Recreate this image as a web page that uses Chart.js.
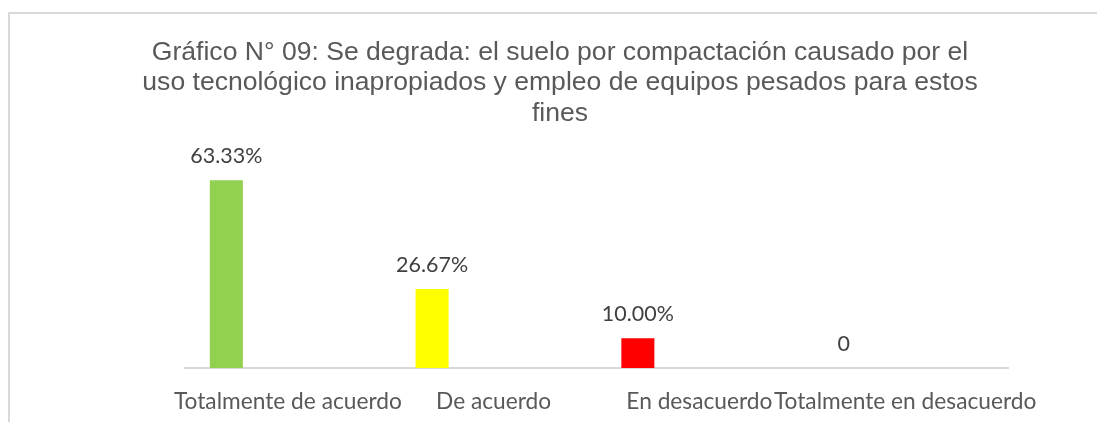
<!DOCTYPE html>
<html>
<head>
<meta charset="utf-8">
<script src="https://cdn.jsdelivr.net/npm/chart.js@4/dist/chart.umd.min.js"></script>
<style>
  html, body { margin: 0; padding: 0; background: #ffffff; overflow: hidden; }
  #frame { position: absolute; left: 8px; top: 12px; width: 1200px; height: 500px; border: 2px solid #d9d9d9; box-sizing: border-box; }
  #wrap { position: absolute; left: 0; top: 0; width: 1097px; height: 422px; }
</style>
</head>
<body>
<div id="frame"></div>
<div id="wrap"><canvas id="c"></canvas></div>
<script>
// ---- data ----
const titleLines = [
  'Gráfico N° 09: Se degrada: el suelo por compactación causado por el',
  'uso tecnológico inapropiados y empleo de equipos pesados para estos',
  'fines'
];
const categories = ['Totalmente de acuerdo', 'De acuerdo', 'En desacuerdo', 'Totalmente en desacuerdo'];
const percentages = [63.33, 26.67, 10.00, 0];
const valueLabels = ['63.33%', '26.67%', '10.00%', '0'];
const barColors = ['#92D050', '#FFFF00', '#FF0000', '#4472C4'];
// the original chart had two further (empty) series next to the visible one
const emptySeriesB = [null, null, null, null];
const emptySeriesC = [null, null, null, null];

// ---- font fitting helpers ----
const mctx = document.createElement('canvas').getContext('2d');
function fitSize(text, family, target) {
  mctx.font = '100px ' + family;
  return 100 * target / mctx.measureText(text).width;
}
const titleFamily = '"Liberation Sans", Arial, sans-serif';
const bodyFamily = 'Lato, "Open Sans", sans-serif';
const titleSize = fitSize(titleLines[1], titleFamily, 836);
const tickSize = fitSize(categories[0], bodyFamily, 228);
const labelSize = fitSize(valueLabels[0], bodyFamily, 72);

const valueLabelPlugin = {
  id: 'valueLabels',
  afterDatasetsDraw(chart) {
    const meta = chart.getDatasetMeta(0);
    const ctx = chart.ctx;
    ctx.save();
    ctx.font = labelSize + 'px ' + bodyFamily;
    ctx.fillStyle = '#404040';
    ctx.textAlign = 'center';
    ctx.textBaseline = 'alphabetic';
    meta.data.forEach((el, i) => {
      ctx.fillText(valueLabels[i], el.x, el.y - 17);
    });
    ctx.restore();
  }
};

new Chart(document.getElementById('c'), {
  type: 'bar',
  data: {
    labels: categories,
    datasets: [
      { label: 'Porcentaje', data: percentages, backgroundColor: barColors, borderWidth: 0 },
      { label: 'B', data: emptySeriesB, backgroundColor: '#ffffff' },
      { label: 'C', data: emptySeriesC, backgroundColor: '#ffffff' }
    ]
  },
  options: {
    responsive: true,
    maintainAspectRatio: false,
    animation: false,
    categoryPercentage: 0.897,
    barPercentage: 0.537,
    layout: { padding: { left: 112, right: 89, top: 0, bottom: 0 } },
    plugins: {
      legend: { display: false },
      tooltip: { enabled: false },
      title: {
        display: true,
        text: titleLines,
        color: '#595959',
        font: { family: titleFamily, size: titleSize, weight: 'normal', lineHeight: 30.5 / titleSize },
        padding: { top: 37, bottom: 32 }
      }
    },
    scales: {
      x: {
        grid: { display: false, drawTicks: false },
        border: { display: true, color: '#d9d9d9', width: 2 },
        ticks: {
          color: '#595959',
          font: { family: bodyFamily, size: tickSize },
          padding: 20,
          maxRotation: 0,
          autoSkip: false
        },
        afterFit(scale) { scale.paddingLeft = 0; scale.paddingRight = 0; scale.height = 54; }
      },
      y: {
        min: 0,
        max: 70,
        grid: { display: false, drawTicks: false },
        border: { display: false },
        ticks: { display: false },
        afterFit(scale) { scale.width = 73; }
      }
    }
  },
  plugins: [valueLabelPlugin]
});
</script>
</body>
</html>
